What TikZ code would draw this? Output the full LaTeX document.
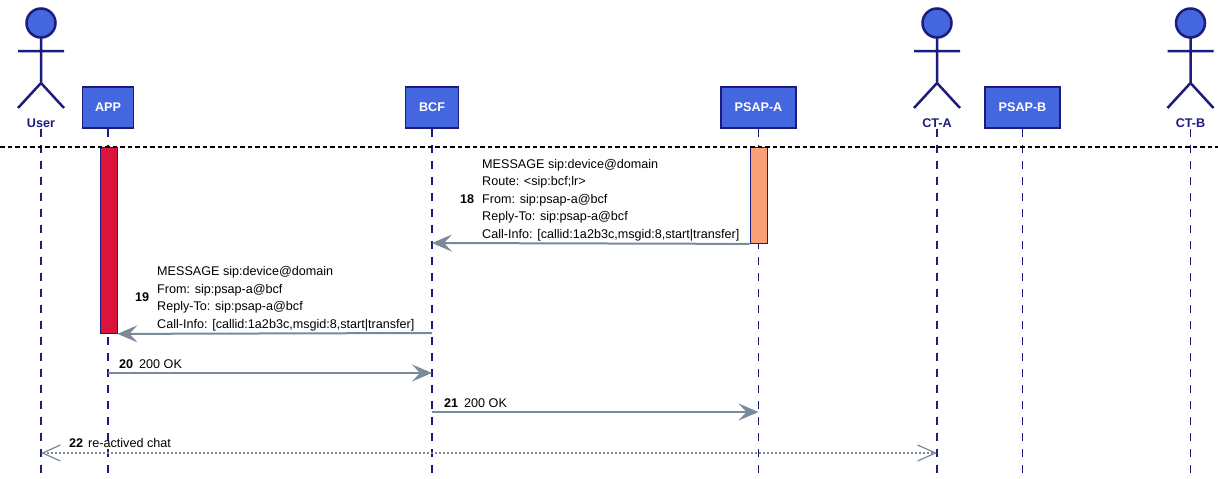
\documentclass[tikz,border=0pt]{standalone}
\usepackage{fontspec}
\setmainfont{Liberation Sans}
\usetikzlibrary{arrows.meta}
\definecolor{navy}{RGB}{28,28,125}
\definecolor{boxblue}{RGB}{68,102,222}
\definecolor{agray}{RGB}{122,138,154}
\definecolor{actred}{RGB}{220,20,60}
\definecolor{actorange}{RGB}{250,160,120}
\tikzset{
  lifeline/.style={navy, line width=1.3pt, dash pattern=on 8pt off 8pt},
  sepline/.style={black, line width=1.4pt, dash pattern=on 4.5pt off 3pt},
  partbox/.style={draw=navy, line width=1.5pt, fill=boxblue, text=white,
    font=\fontsize{12.6}{15}\selectfont\bfseries, inner sep=0pt, minimum height=41pt},
  actorlabel/.style={text=navy, font=\fontsize{12.6}{15}\selectfont\bfseries, inner sep=0pt, anchor=base},
  actbar/.style={draw=navy, line width=0.9pt, inner sep=0pt, minimum width=17pt, anchor=north},
  msgtext/.style={font=\fontsize{12.6}{15}\selectfont, inner sep=0pt, anchor=base west},
  msgnum/.style={font=\fontsize{12.6}{15}\selectfont\bfseries, inner sep=0pt, anchor=base west},
  msgarrow/.style={agray, line width=2pt, -{Stealth[length=20pt,width=17pt,inset=8pt]}},
  asyncarrow/.style={agray, line width=1.2pt, dash pattern=on 2pt off 2pt,
    {Straight Barb[length=18pt,width=16pt]}-{Straight Barb[length=18pt,width=16pt]}},
  stickman/.pic={
    \draw[navy, line width=2.5pt, fill=boxblue] (0,23) circle[radius=14.5pt];
    \draw[navy, line width=2.5pt, line join=round] (0,37.5) -- (0,83) (-23,51) -- (23,51)
      (-23,108) -- (0,83) -- (23,108);
  }
}
\begin{document}
\begin{tikzpicture}[x=1pt,y=-1pt]
\useasboundingbox[fill=white] (0,0) rectangle (1218,479);

% actors and participants
\pic at (41,0) {stickman};
\pic at (937,0) {stickman};
\pic at (1190.5,0) {stickman};
\node[actorlabel] (user) at (41,127.5) {User};
\node[actorlabel] (cta) at (937,127.5) {CT-A};
\node[actorlabel] (ctb) at (1190.5,127.5) {CT-B};
\node[partbox, minimum width=51pt] (app) at (108,107.5) {APP};
\node[partbox, minimum width=53pt] (bcf) at (432,107.5) {BCF};
\node[partbox, minimum width=75pt] (psapa) at (758.5,107.5) {PSAP-A};
\node[partbox, minimum width=75pt] (psapb) at (1022.5,107.5) {PSAP-B};

% lifeline ends
\coordinate (userend) at (41,479);
\coordinate (ctaend) at (937,479);
\coordinate (ctbend) at (1190.5,479);
\coordinate (append) at (108,479);
\coordinate (bcfend) at (432,479);
\coordinate (psapaend) at (758.5,479);
\coordinate (psapbend) at (1022.5,479);
\coordinate (usertop) at (41,129);
\coordinate (ctatop) at (937,129);
\coordinate (ctbtop) at (1190.5,129);

\draw[lifeline] (usertop) -- (userend);
\draw[lifeline] (ctatop) -- (ctaend);
\draw[lifeline] (ctbtop) -- (ctbend);
\draw[lifeline] (app.south) -- (append);
\draw[lifeline] (bcf.south) -- (bcfend);
\draw[lifeline] (psapa.south) -- (psapaend);
\draw[lifeline] (psapb.south) -- (psapbend);

% activation bars
\node[actbar, fill=actred, minimum height=186pt] (appbar) at (108.5,147) {};
\node[actbar, fill=actorange, minimum height=96pt] (psapabar) at (758.5,147) {};

% separator
\coordinate (sepl) at (0,147);
\coordinate (sepr) at (1218,147);
\draw[sepline] (sepl) -- (sepr);

% message 18
\coordinate (bcf18) at (432,243);
\draw[msgarrow] (psapabar.south west) -- (bcf18);
\node[msgnum] (n18) at (460,203) {18};
\node[msgtext] (t18a) at (482,168) {MESSAGE sip:device@domain};
\node[msgtext] (t18b) at (482,185.5) {Route: <sip:bcf;lr>};
\node[msgtext] (t18c) at (482,203) {From: sip:psap-a@bcf};
\node[msgtext] (t18d) at (482,220.5) {Reply-To: sip:psap-a@bcf};
\node[msgtext] (t18e) at (482,238) {Call-Info: [callid:1a2b3c,msgid:8,start|transfer]};

% message 19
\coordinate (bcf19) at (432,333);
\draw[msgarrow] (bcf19) -- (appbar.south east);
\node[msgnum] (n19) at (135,301.5) {19};
\node[msgtext] (t19a) at (157,275.5) {MESSAGE sip:device@domain};
\node[msgtext] (t19b) at (157,293) {From: sip:psap-a@bcf};
\node[msgtext] (t19c) at (157,310.5) {Reply-To: sip:psap-a@bcf};
\node[msgtext] (t19d) at (157,328) {Call-Info: [callid:1a2b3c,msgid:8,start|transfer]};

% message 20
\coordinate (app20) at (108,373);
\coordinate (bcf20) at (432,373);
\draw[msgarrow] (app20) -- (bcf20);
\node[msgnum] (n20) at (119,368) {20};
\node[msgtext] (t20) at (139,368) {200 OK};

% message 21
\coordinate (bcf21) at (432,412);
\coordinate (psapa21) at (758.5,412);
\draw[msgarrow] (bcf21) -- (psapa21);
\node[msgnum] (n21) at (444,407) {21};
\node[msgtext] (t21) at (464,407) {200 OK};

% message 22
\coordinate (user22) at (41,453);
\coordinate (cta22) at (937,453);
\draw[asyncarrow] (user22) -- (cta22);
\node[msgnum] (n22) at (69,447) {22};
\node[msgtext] (t22) at (88,447) {re-actived chat};
\end{tikzpicture}
\end{document}
